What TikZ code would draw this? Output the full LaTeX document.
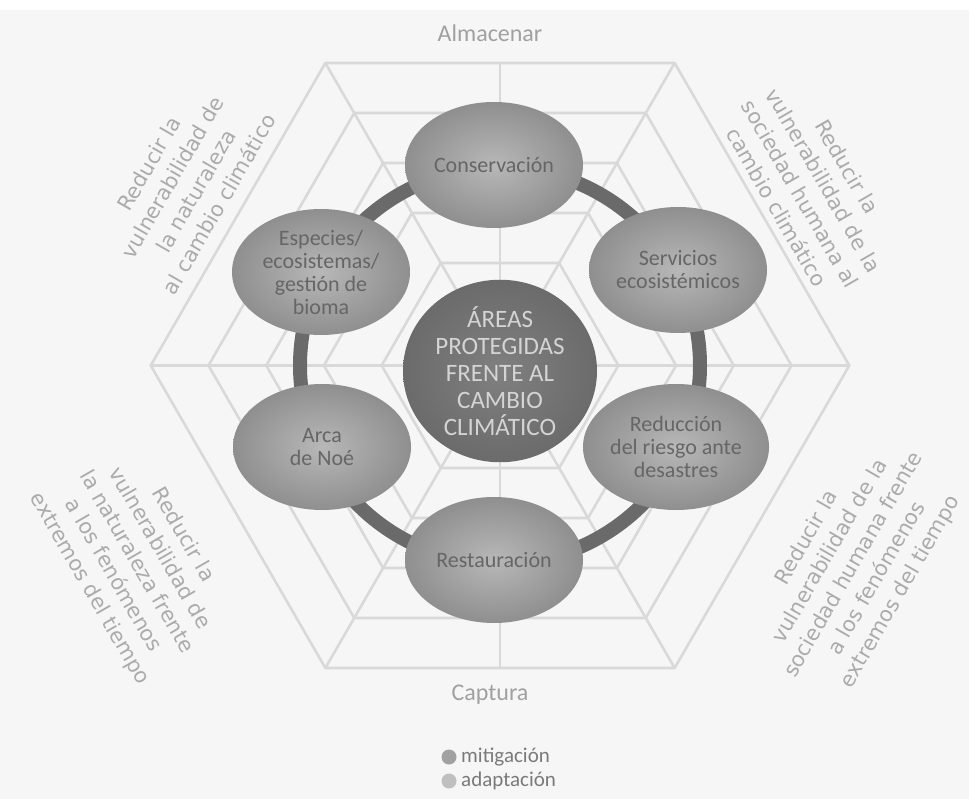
\documentclass[tikz,border=0pt]{standalone}
\usepackage{fontspec}
\setmainfont{Carlito}
\newfontfamily\sidefont{DejaVu Sans}
\usetikzlibrary{calc,shapes.geometric}
\definecolor{bgcol}{HTML}{F6F6F6}
\definecolor{hexcol}{HTML}{D9D9D9}
\definecolor{ringcol}{HTML}{6A6A6A}
\definecolor{sidecol}{HTML}{ABABAB}
\definecolor{axiscol}{HTML}{A0A0A0}
\definecolor{nodetext}{HTML}{666666}
\definecolor{centertext}{HTML}{D4D4D4}
\definecolor{legtext}{HTML}{7A7A7A}
\tikzset{
  hexline/.style={draw=hexcol, line width=2.6},
  outerball/.style={ellipse, minimum width=178, minimum height=126, inner sep=0pt, align=center,
    inner color=black!28, outer color=black!44, text=nodetext,
    font=\fontsize{22}{23}\selectfont},
  centerball/.style={ellipse, minimum width=194, minimum height=182, inner sep=0pt, align=center,
    inner color=black!50, outer color=black!58, text=centertext,
    font=\fontsize{25}{27}\selectfont},
  sidelabel/.style={align=center, text=sidecol, inner sep=0pt, font=\sidefont\fontsize{21}{27}\selectfont},
  axislabel/.style={text=axiscol, font=\fontsize{24}{26}\selectfont},
  legdot/.style={circle, minimum size=15, inner sep=0pt},
  legtxt/.style={anchor=west, text=legtext, font=\fontsize{21}{22}\selectfont, inner sep=0pt}
}
\begin{document}
\begin{tikzpicture}[x=1pt,y=-1pt]
\useasboundingbox (0,0) rectangle (969,799);
\fill[bgcol] (0,0) rectangle (969,799);
\fill[white] (0,0) rectangle (969,10);
\coordinate (C) at (500,365.5);
% hexagon web
\foreach \a in {302.5,252.5,202.5,152.5,102.5} {
  \pgfmathsetmacro\r{\a/0.8660254}
  \draw[hexline] ($(C)+(0:\r)$) -- ($(C)+(60:\r)$) -- ($(C)+(120:\r)$) -- ($(C)+(180:\r)$)
    -- ($(C)+(240:\r)$) -- ($(C)+(300:\r)$) -- cycle;
}
\foreach \t in {0,60,...,300} {
  \draw[hexline] (C) -- ($(C)+(\t:349.3)$);
}
\draw[hexline] ($(C)+(0,-302.5)$) -- ($(C)+(0,302.5)$);
% ring band
\draw[ringcol, line width=14] (C) ellipse [x radius=200, y radius=198];
% nodes
\node[centerball] (center) at (500,371) {ÁREAS\\PROTEGIDAS\\FRENTE AL\\CAMBIO\\CLIMÁTICO};
\node[outerball] (cons) at (494,165) {Conservación};
\node[outerball] (serv) at (678,270) {Servicios\\ecosistémicos};
\node[outerball] (red) at (676,447) {Reducción\\del riesgo ante\\desastres};
\node[outerball] (rest) at (494,560) {Restauración};
\node[outerball] (arca) at (322,447) {Arca\\de Noé};
\node[outerball] (esp) at (321,272) {Especies/\\ecosistemas/\\gestión de\\bioma};
% axis labels
\node[axislabel] (alm) at (490,33) {Almacenar};
\node[axislabel] (cap) at (490,695) {Captura};
% side labels
\node[sidelabel, rotate=60] (tl) at (184,184) {Reducir la\\vulnerabilidad de\\la naturaleza\\al cambio climático};
\node[sidelabel, rotate=-60] (tr) at (812,187) {Reducir la\\vulnerabilidad de la\\sociedad humana al\\cambio climático};
\node[sidelabel, rotate=-60] (bl) at (136,562) {Reducir la\\vulnerabilidad de\\la naturaleza frente\\a los fenómenos\\extremos del tiempo};
\node[sidelabel, rotate=60] (br) at (854,565) {Reducir la\\vulnerabilidad de la\\sociedad humana frente\\a los fenómenos\\extremos del tiempo};
% legend
\node[legdot, fill=black!37] (d1) at (449,757) {};
\node[legdot, fill=black!25] (d2) at (449,781) {};
\node[legtxt] (l1) at (461,757) {mitigación};
\node[legtxt] (l2) at (461,781) {adaptación};
\end{tikzpicture}
\end{document}
